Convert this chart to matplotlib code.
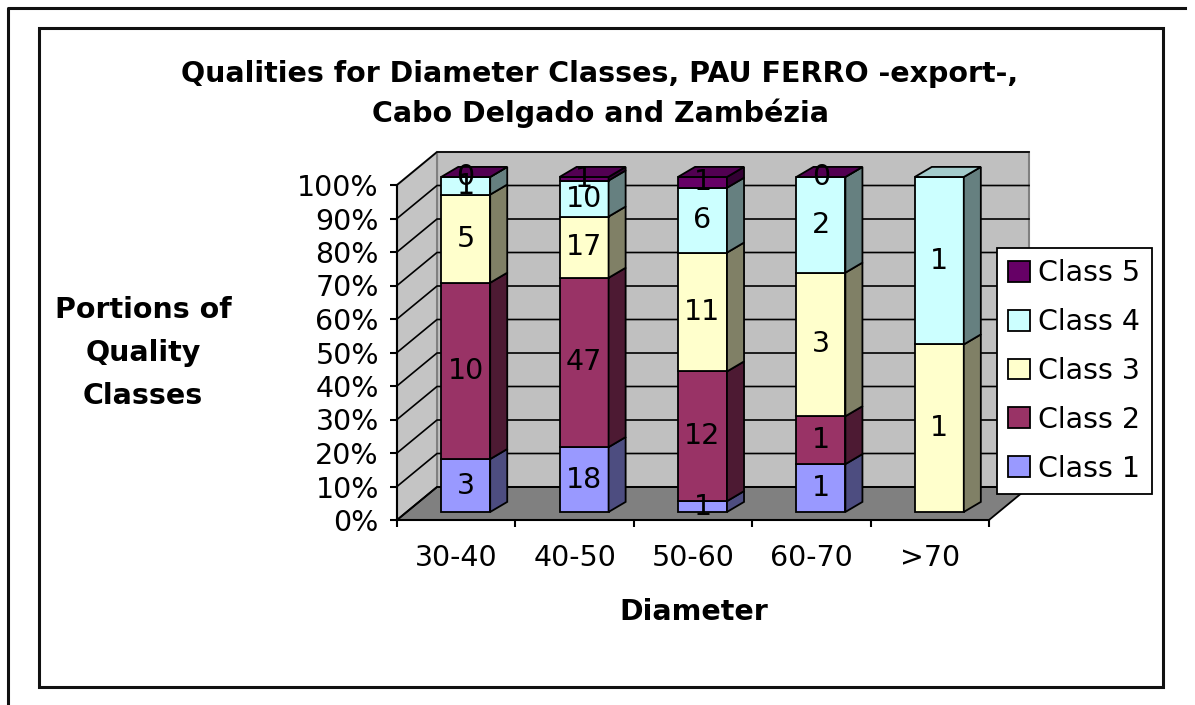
import numpy as np
import matplotlib.pyplot as plt
from matplotlib.patches import Polygon, Patch
from matplotlib.lines import Line2D
from matplotlib.ticker import FixedLocator

plt.rcParams['font.family'] = ['DejaVu Sans']

# counts per diameter class (blank = no trees in that quality class)
categories = ['30-40', '40-50', '50-60', '60-70', '>70']
class_names = ['Class 1', 'Class 2', 'Class 3', 'Class 4', 'Class 5']
class1 = [3, 18, 1, 1, np.nan]
class2 = [10, 47, 12, 1, np.nan]
class3 = [5, 17, 11, 3, 1]
class4 = [1, 10, 6, 2, 1]
class5 = [0, 1, 1, 0, np.nan]
y_ticks = list(range(0, 101, 10))

colors = ['#9999FF', '#993366', '#FFFFCC', '#CCFFFF', '#660066']

counts = np.array([class1, class2, class3, class4, class5], dtype=float)
totals = np.nansum(counts, axis=0)
pcts = counts / totals * 100

FS = 20.5


def shade(c, f):
    r, g, b = [int(c[i:i + 2], 16) for i in (1, 3, 5)]
    return (r * f / 255, g * f / 255, b * f / 255)


fig = plt.figure(figsize=(11.95, 7.05), dpi=100)
W, H = 1195, 705
ax = fig.add_axes([397 / W, (H - 520) / H, 592 / W, 335 / H])
ax.set_xlim(0, 5)
ax.set_ylim(0, 100)
ax.patch.set_visible(False)

# depth of the walls and of the columns, in data units
wdx, wdy = 0.338, 9.85
off_x, off_y = 0.08, 2.4
bar_w = 0.414
bdx, bdy = 0.144, 3.0


def poly(pts, fc, ec='black', lw=1.3, z=1):
    ax.add_patch(Polygon(pts, closed=True, fc=fc, ec=ec, lw=lw,
                         clip_on=False, zorder=z))


n = len(categories)
# walls and floor
poly([(wdx, wdy), (n + wdx, wdy), (n + wdx, 100 + wdy), (wdx, 100 + wdy)],
     '#C0C0C0', ec='#808080', lw=1.5, z=0.1)
poly([(0, 0), (wdx, wdy), (wdx, 100 + wdy), (0, 100)],
     '#C4C4C4', ec='#808080', lw=1.5, z=0.1)
poly([(0, 0), (n, 0), (n + wdx, wdy), (wdx, wdy)], '#808080', lw=1.3, z=0.2)
for p in y_ticks:
    ax.plot([0, wdx, n + wdx], [p, p + wdy, p + wdy], color='black',
            lw=1.2, clip_on=False, zorder=0.3)

# stacked columns
for i in range(n):
    x0 = i + 0.5 - bar_w / 2 + off_x
    x1 = x0 + bar_w
    y = off_y
    top_color = None
    for k in range(len(class_names)):
        v = pcts[k, i]
        if np.isnan(v):
            continue
        y1 = y + v
        poly([(x0, y), (x1, y), (x1, y1), (x0, y1)], colors[k], z=2)
        poly([(x1, y), (x1 + bdx, y + bdy), (x1 + bdx, y1 + bdy), (x1, y1)],
             shade(colors[k], 0.5), z=2)
        ax.text((x0 + x1) / 2, y + v / 2, '%d' % counts[k, i], ha='center',
                va='center', fontsize=FS, zorder=5, clip_on=False)
        top_color = colors[k]
        y = y1
    poly([(x0, y), (x1, y), (x1 + bdx, y + bdy), (x0 + bdx, y + bdy)],
         shade(top_color, 0.8), z=2)

# axes
for s in ('top', 'right'):
    ax.spines[s].set_visible(False)
for s in ('left', 'bottom'):
    ax.spines[s].set_linewidth(1.5)
    ax.spines[s].set_zorder(3)
ax.set_yticks(y_ticks)
ax.set_yticklabels(['%d%%' % t for t in y_ticks])
ax.set_xticks(range(n + 1))
ax.set_xticklabels([])
ax.xaxis.set_minor_locator(FixedLocator(np.arange(n) + 0.5))
ax.set_xticklabels(categories, minor=True)
ax.tick_params(axis='both', which='major', direction='out', length=5,
               width=1.5, labelsize=FS, pad=8)
ax.tick_params(axis='x', which='minor', length=0, labelsize=FS, pad=17)

# legend
handles = [Patch(fc=colors[k], ec='black', lw=1.3) for k in range(5)][::-1]
leg = fig.legend(handles, class_names[::-1], loc='upper left',
                 bbox_to_anchor=(997 / W, 1 - 248 / H), fontsize=FS,
                 frameon=True, fancybox=False, edgecolor='black',
                 framealpha=1, handlelength=0.75, handleheight=0.75,
                 handletextpad=0.3, labelspacing=0.73, borderpad=0.4,
                 borderaxespad=0)
leg.get_frame().set_linewidth(1.3)

# titles
fig.text(600 / W, 1 - 94 / H,
         'Qualities for Diameter Classes, PAU FERRO -export-,\n'
         'Cabo Delgado and Zambézia', ha='center', va='center',
         fontsize=FS, fontweight='bold', linespacing=1.45)
fig.text(143 / W, 1 - 353 / H, 'Portions of\nQuality\nClasses',
         ha='center', va='center', fontsize=FS, fontweight='bold',
         linespacing=1.7)
fig.text(694 / W, 1 - 612 / H, 'Diameter', ha='center', va='center',
         fontsize=FS, fontweight='bold')

# chart area border and outer frame
fig.add_artist(plt.Rectangle((39 / W, 1 - 687 / H), 1124 / W, 659 / H,
                             transform=fig.transFigure, fill=False,
                             ec='#111111', lw=2.2))
fig.add_artist(Line2D([8 / W, 8 / W, 1185 / W], [0, 1 - 8 / H, 1 - 8 / H],
                      transform=fig.transFigure, color='#111111', lw=2.2))

fig.savefig('out.png', dpi=100)
